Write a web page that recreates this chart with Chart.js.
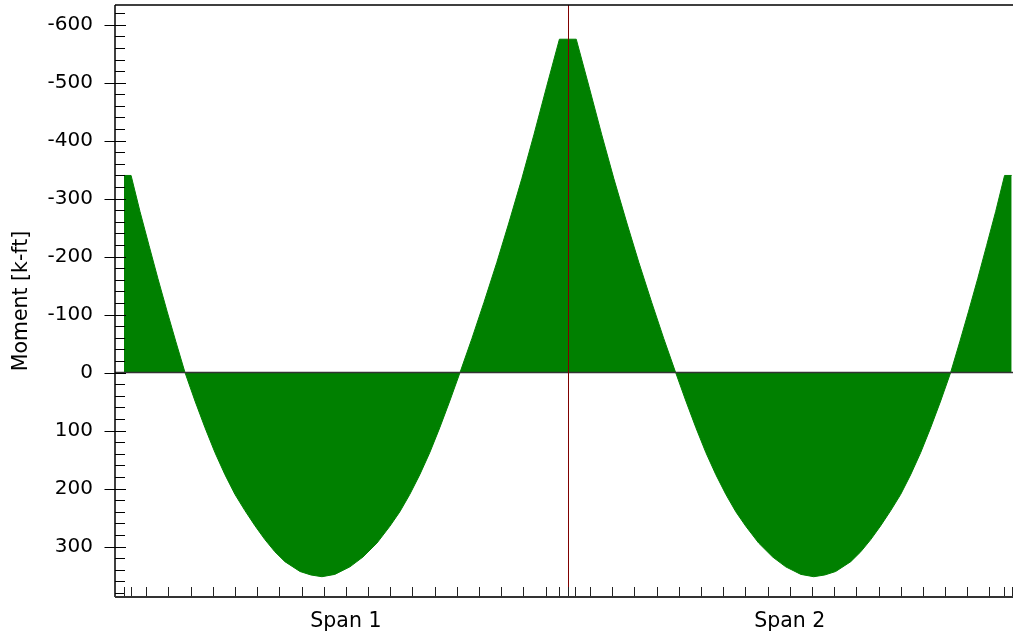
<!DOCTYPE html>
<html>
<head>
<meta charset="utf-8">
<script src="https://cdn.jsdelivr.net/npm/chart.js@4.4.1/dist/chart.umd.min.js"></script>
<style>
  html, body { margin: 0; padding: 0; background: #ffffff; overflow: hidden; }
  #wrap { width: 1013px; height: 638px; position: relative; }
</style>
</head>
<body>
<div id="wrap"><canvas id="c"></canvas></div>
<script>
// Position along the beam (20 divisions per span) and bending moment in k-ft.
// Negative (hogging) moments are drawn upward.
const positions = [
  0.00, 0.32, 0.72, 1.13, 1.53, 1.94, 2.34, 2.75, 3.20, 3.65, 4.10, 4.55, 5.00, 5.45, 5.90, 6.35,
  6.80, 7.25, 7.93, 8.42, 8.92, 9.50, 10.18, 10.77, 11.40, 11.98, 12.43, 12.88, 13.33, 13.78, 14.23,
  14.68, 15.14, 15.68, 16.22, 16.80, 17.34, 17.93, 18.47, 19.05, 19.62,
  20.00,
  20.38, 20.95, 21.53, 22.07, 22.66, 23.20, 23.78, 24.32, 24.86, 25.32, 25.77, 26.22, 26.67, 27.12,
  27.57, 28.02, 28.60, 29.23, 29.82, 30.50, 31.08, 31.58, 32.07, 32.75, 33.20, 33.65, 34.10, 34.55,
  35.00, 35.45, 35.90, 36.35, 36.80, 37.25, 37.66, 38.06, 38.47, 38.87, 39.28, 39.68, 40.00
];
const moments = [
  -340, -340, -278, -219, -162, -106, -53, 0, 49, 95, 138, 176, 210, 238, 264, 288,
  309, 326, 343, 349, 352, 348, 335, 318, 294, 265, 240, 210, 176, 138, 95,
  49, 0, -59, -121, -190, -258, -335, -410, -494, -575,
  -575,
  -575, -494, -410, -335, -258, -190, -121, -59, 0, 49, 95, 138, 176, 210,
  240, 265, 294, 318, 335, 348, 352, 349, 343, 326, 309, 288, 264, 238,
  210, 176, 138, 95, 49, 0, -53, -106, -162, -219, -278, -340, -340
];

const spanLabels = ['Span 1', 'Span 2'];
const spanCenters = [10, 30];
const momentTicks = [-600, -500, -400, -300, -200, -100, 0, 100, 200, 300];
const minorStep = 20;
const divisionTicks = Array.from({ length: 41 }, (_, i) => i);
const supportFaces = [0.32, 19.62, 20.32, 39.66];
const interiorSupport = 20;

const FONT = { family: "'DejaVu Sans', Verdana, sans-serif", size: 20 };
const TITLE_FONT = { family: "'DejaVu Sans', Verdana, sans-serif", size: 20.5 };

// Axis frame, tick marks, zero line and interior support marker.
const framePlugin = {
  id: 'frame',
  afterDatasetsDraw(chart) {
    const { ctx, chartArea: a, scales: { x, y } } = chart;
    ctx.save();

    // zero line
    const y0 = y.getPixelForValue(0);
    ctx.strokeStyle = '#333333';
    ctx.lineWidth = 1.5;
    ctx.beginPath();
    ctx.moveTo(a.left, y0);
    ctx.lineTo(a.right, y0);
    ctx.stroke();

    // interior support
    const xs = Math.round(x.getPixelForValue(interiorSupport)) + 0.5;
    ctx.strokeStyle = '#800000';
    ctx.lineWidth = 1;
    ctx.beginPath();
    ctx.moveTo(xs, a.top);
    ctx.lineTo(xs, a.bottom);
    ctx.stroke();

    // y tick marks
    ctx.strokeStyle = '#000000';
    ctx.lineWidth = 1;
    for (let v = Math.ceil(y.min / minorStep) * minorStep; v <= y.max; v += minorStep) {
      const py = Math.round(y.getPixelForValue(v)) + 0.5;
      const major = v % 100 === 0;
      ctx.beginPath();
      ctx.moveTo(major ? a.left - 10.5 : a.left, py);
      ctx.lineTo(a.left + (major ? 11 : 10), py);
      ctx.stroke();
    }

    // x tick marks
    ctx.strokeStyle = '#222222';
    divisionTicks.concat(supportFaces).forEach(v => {
      const px = Math.round(x.getPixelForValue(v)) + 0.5;
      ctx.beginPath();
      ctx.moveTo(px, a.bottom - 10);
      ctx.lineTo(px, a.bottom);
      ctx.stroke();
    });

    // frame: top border, left axis, bottom axis
    ctx.strokeStyle = '#000000';
    ctx.lineWidth = 1.5;
    ctx.beginPath();
    ctx.moveTo(a.left, a.top);
    ctx.lineTo(a.right, a.top);
    ctx.moveTo(a.left, a.top);
    ctx.lineTo(a.left, a.bottom);
    ctx.stroke();
    ctx.strokeStyle = '#333333';
    ctx.lineWidth = 2;
    ctx.beginPath();
    ctx.moveTo(a.left, a.bottom);
    ctx.lineTo(a.right, a.bottom);
    ctx.stroke();

    ctx.restore();
  }
};

new Chart(document.getElementById('c'), {
  type: 'line',
  data: {
    datasets: [{
      data: positions.map((p, i) => ({ x: p, y: moments[i] })),
      borderColor: '#008000',
      borderWidth: 1,
      backgroundColor: '#008000',
      fill: { value: 0 },
      pointRadius: 0,
      tension: 0
    }]
  },
  options: {
    responsive: true,
    maintainAspectRatio: false,
    animation: false,
    devicePixelRatio: 1,
    layout: { padding: { top: 5, left: 0, right: 0, bottom: 0 } },
    plugins: { legend: { display: false }, tooltip: { enabled: false } },
    scales: {
      x: {
        type: 'linear',
        position: 'bottom',
        min: -0.405,
        max: 40.06,
        grid: { display: false, drawTicks: false },
        border: { display: false },
        afterBuildTicks: s => { s.ticks = spanCenters.map(v => ({ value: v })); },
        afterFit: s => { s.height = 41; s.paddingLeft = 0; s.paddingRight = 0; },
        ticks: {
          padding: 12,
          autoSkip: false,
          maxRotation: 0,
          color: '#000000',
          font: TITLE_FONT,
          callback: (v, i) => spanLabels[i]
        }
      },
      y: {
        type: 'linear',
        position: 'left',
        reverse: true,
        min: -634,
        max: 387,
        grid: { display: false, drawTicks: false },
        border: { display: false },
        afterBuildTicks: s => { s.ticks = momentTicks.map(v => ({ value: v })); },
        afterFit: s => { s.width = 115; s.paddingTop = 0; s.paddingBottom = 0; },
        ticks: {
          padding: 22,
          color: '#000000',
          font: FONT,
          callback: v => String(v)
        },
        title: {
          display: true,
          text: 'Moment [k-ft]',
          color: '#000000',
          font: TITLE_FONT,
          padding: { top: 9, bottom: 0 }
        }
      }
    }
  },
  plugins: [framePlugin]
});
</script>
</body>
</html>
